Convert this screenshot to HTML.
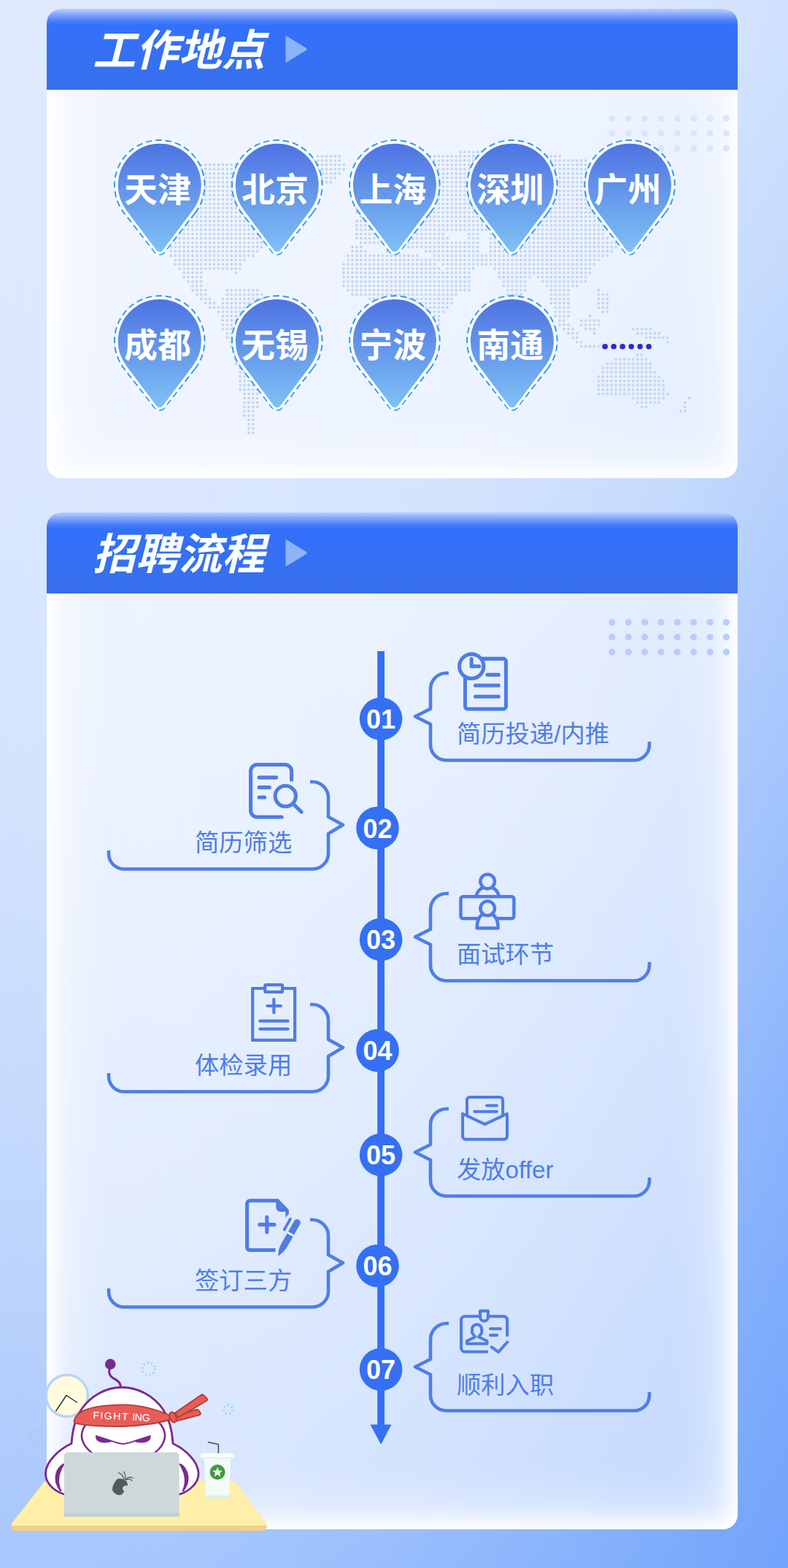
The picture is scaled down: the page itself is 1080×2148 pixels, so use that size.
<!DOCTYPE html>
<html><head><meta charset="utf-8"><title>poster</title>
<style>
html,body{margin:0;padding:0;}
body{width:1080px;height:2148px;position:relative;overflow:hidden;font-family:"Liberation Sans",sans-serif;background:#c8dcfd;}
.bs{position:absolute;top:0;height:2148px;}
.bs i{position:absolute;left:0;top:0;right:0;bottom:0;-webkit-mask-image:linear-gradient(to right,transparent,#000);mask-image:linear-gradient(to right,transparent,#000);}
.card{position:absolute;left:64px;width:947px;border-radius:20px;overflow:hidden;}
.card .bd{position:absolute;left:0;top:0;right:0;bottom:0;border-radius:20px;background:rgba(255,255,255,0.55);box-shadow:inset 0 0 24px 11px #fff,inset 0 0 80px 20px rgba(255,255,255,.75);}
.card .hd{position:absolute;left:0;top:0;right:0;height:111px;background:linear-gradient(to bottom,#bbd0ff 0px,#82a7fd 8px,#477dfb 17px,#3370fb 23px,#3870ec 100%);}
#c1{top:12px;height:643px;}
#c2{top:702px;height:1393px;}
svg{position:absolute;left:0;top:0;}
svg text{font-family:"Liberation Sans","Noto Sans CJK SC",sans-serif;}
</style></head><body>
<div class="bs" style="left:0.0px;width:135.5px;background:linear-gradient(to bottom,#dfeafd 0.0%,#deeafd 4.2%,#dee9fd 8.3%,#dde9fe 12.5%,#dde9fe 16.7%,#dce8fe 20.8%,#dce8fe 25.0%,#dae7fe 29.2%,#d9e7fe 33.3%,#d8e6fe 37.5%,#d7e6fe 41.7%,#d6e5fe 45.8%,#d4e4fe 50.0%,#d1e2fd 54.2%,#cee0fd 58.3%,#cbdefd 62.5%,#c8dcfd 66.7%,#c5dafd 70.8%,#c2d8fd 75.0%,#bed6fd 79.2%,#bad3fd 83.3%,#b5cffc 87.5%,#b1ccfc 91.7%,#accafc 95.8%,#a8c7fd 100.0%)"><i style="background:linear-gradient(to bottom,#dfeafd 0.0%,#deeafd 4.2%,#dee9fd 8.3%,#dde9fe 12.5%,#dde8fe 16.7%,#dce8fe 20.8%,#dbe8fe 25.0%,#dae7fe 29.2%,#d9e7fe 33.3%,#d8e6fe 37.5%,#d7e6fe 41.7%,#d6e5fe 45.8%,#d3e3fe 50.0%,#d0e2fd 54.2%,#cde0fd 58.3%,#cadefd 62.5%,#c8dcfd 66.7%,#c4dafd 70.8%,#c1d8fd 75.0%,#bdd5fd 79.2%,#b9d2fd 83.3%,#b4cffc 87.5%,#b0cbfc 91.7%,#acc9fc 95.8%,#a7c7fd 100.0%)"></i></div>
<div class="bs" style="left:135.0px;width:135.5px;background:linear-gradient(to bottom,#dfeafd 0.0%,#deeafd 4.2%,#dee9fd 8.3%,#dde9fe 12.5%,#dde8fe 16.7%,#dce8fe 20.8%,#dbe8fe 25.0%,#dae7fe 29.2%,#d9e7fe 33.3%,#d8e6fe 37.5%,#d7e6fe 41.7%,#d6e5fe 45.8%,#d3e3fe 50.0%,#d0e2fd 54.2%,#cde0fd 58.3%,#cadefd 62.5%,#c8dcfd 66.7%,#c4dafd 70.8%,#c1d8fd 75.0%,#bdd5fd 79.2%,#b9d2fd 83.3%,#b4cffc 87.5%,#b0cbfc 91.7%,#acc9fc 95.8%,#a7c7fd 100.0%)"><i style="background:linear-gradient(to bottom,#dfeafd 0.0%,#dee9fd 4.2%,#dde9fe 8.3%,#dde9fe 12.5%,#dce8fe 16.7%,#dce8fe 20.8%,#dbe7fe 25.0%,#dae7fe 29.2%,#d9e6fe 33.3%,#d7e6fe 37.5%,#d6e5fe 41.7%,#d4e4fe 45.8%,#d1e2fd 50.0%,#cee1fd 54.2%,#ccdffd 58.3%,#c9ddfd 62.5%,#c6dbfd 66.7%,#c2d9fd 70.8%,#bfd6fd 75.0%,#bad3fd 79.2%,#b6d0fc 83.3%,#b1cdfc 87.5%,#adcafc 91.7%,#a9c8fd 95.8%,#a5c5fd 100.0%)"></i></div>
<div class="bs" style="left:270.0px;width:135.5px;background:linear-gradient(to bottom,#dfeafd 0.0%,#dee9fd 4.2%,#dde9fe 8.3%,#dde9fe 12.5%,#dce8fe 16.7%,#dce8fe 20.8%,#dbe7fe 25.0%,#dae7fe 29.2%,#d9e6fe 33.3%,#d7e6fe 37.5%,#d6e5fe 41.7%,#d4e4fe 45.8%,#d1e2fd 50.0%,#cee1fd 54.2%,#ccdffd 58.3%,#c9ddfd 62.5%,#c6dbfd 66.7%,#c2d9fd 70.8%,#bfd6fd 75.0%,#bad3fd 79.2%,#b6d0fc 83.3%,#b1cdfc 87.5%,#adcafc 91.7%,#a9c8fd 95.8%,#a5c5fd 100.0%)"><i style="background:linear-gradient(to bottom,#dee9fd 0.0%,#dde9fe 4.2%,#dde9fe 8.3%,#dce8fe 12.5%,#dce8fe 16.7%,#dbe7fe 20.8%,#dae7fe 25.0%,#d8e6fe 29.2%,#d7e6fe 33.3%,#d6e5fe 37.5%,#d4e4fe 41.7%,#d1e2fd 45.8%,#cee1fd 50.0%,#cbdffd 54.2%,#c9ddfd 58.3%,#c6dbfd 62.5%,#c2d8fd 66.7%,#bed6fd 70.8%,#bad3fd 75.0%,#b6d0fc 79.2%,#b1cdfc 83.3%,#adcafc 87.5%,#a9c8fd 91.7%,#a4c5fd 95.8%,#9fc2fd 100.0%)"></i></div>
<div class="bs" style="left:405.0px;width:135.5px;background:linear-gradient(to bottom,#dee9fd 0.0%,#dde9fe 4.2%,#dde9fe 8.3%,#dce8fe 12.5%,#dce8fe 16.7%,#dbe7fe 20.8%,#dae7fe 25.0%,#d8e6fe 29.2%,#d7e6fe 33.3%,#d6e5fe 37.5%,#d4e4fe 41.7%,#d1e2fd 45.8%,#cee1fd 50.0%,#cbdffd 54.2%,#c9ddfd 58.3%,#c6dbfd 62.5%,#c2d8fd 66.7%,#bed6fd 70.8%,#bad3fd 75.0%,#b6d0fc 79.2%,#b1cdfc 83.3%,#adcafc 87.5%,#a9c8fd 91.7%,#a4c5fd 95.8%,#9fc2fd 100.0%)"><i style="background:linear-gradient(to bottom,#dde9fe 0.0%,#dde8fe 4.2%,#dce8fe 8.3%,#dbe8fe 12.5%,#dae7fe 16.7%,#d9e7fe 20.8%,#d8e6fe 25.0%,#d7e5fe 29.2%,#d5e5fe 33.3%,#d3e3fe 37.5%,#d0e1fd 41.7%,#cde0fd 45.8%,#cadefd 50.0%,#c7dcfd 54.2%,#c4dafd 58.3%,#c0d7fd 62.5%,#bcd5fd 66.7%,#b8d2fd 70.8%,#b3cefc 75.0%,#afcbfc 79.2%,#abc9fc 83.3%,#a7c7fd 87.5%,#a2c4fd 91.7%,#9dc0fd 95.8%,#98bdfd 100.0%)"></i></div>
<div class="bs" style="left:540.0px;width:135.5px;background:linear-gradient(to bottom,#dde9fe 0.0%,#dde8fe 4.2%,#dce8fe 8.3%,#dbe8fe 12.5%,#dae7fe 16.7%,#d9e7fe 20.8%,#d8e6fe 25.0%,#d7e5fe 29.2%,#d5e5fe 33.3%,#d3e3fe 37.5%,#d0e1fd 41.7%,#cde0fd 45.8%,#cadefd 50.0%,#c7dcfd 54.2%,#c4dafd 58.3%,#c0d7fd 62.5%,#bcd5fd 66.7%,#b8d2fd 70.8%,#b3cefc 75.0%,#afcbfc 79.2%,#abc9fc 83.3%,#a7c7fd 87.5%,#a2c4fd 91.7%,#9dc0fd 95.8%,#98bdfd 100.0%)"><i style="background:linear-gradient(to bottom,#dce8fe 0.0%,#dbe8fe 4.2%,#dae7fe 8.3%,#d9e7fe 12.5%,#d8e6fe 16.7%,#d7e6fe 20.8%,#d6e5fe 25.0%,#d3e3fe 29.2%,#d0e2fd 33.3%,#cde0fd 37.5%,#cadefd 41.7%,#c8dcfd 45.8%,#c4dafd 50.0%,#c1d8fd 54.2%,#bdd5fd 58.3%,#b8d2fd 62.5%,#b4cffc 66.7%,#afcbfc 70.8%,#abc9fc 75.0%,#a7c7fd 79.2%,#a3c4fd 83.3%,#9ec1fd 87.5%,#99bdfd 91.7%,#94bafc 95.8%,#8fb7fc 100.0%)"></i></div>
<div class="bs" style="left:675.0px;width:135.5px;background:linear-gradient(to bottom,#dce8fe 0.0%,#dbe8fe 4.2%,#dae7fe 8.3%,#d9e7fe 12.5%,#d8e6fe 16.7%,#d7e6fe 20.8%,#d6e5fe 25.0%,#d3e3fe 29.2%,#d0e2fd 33.3%,#cde0fd 37.5%,#cadefd 41.7%,#c8dcfd 45.8%,#c4dafd 50.0%,#c1d8fd 54.2%,#bdd5fd 58.3%,#b8d2fd 62.5%,#b4cffc 66.7%,#afcbfc 70.8%,#abc9fc 75.0%,#a7c7fd 79.2%,#a3c4fd 83.3%,#9ec1fd 87.5%,#99bdfd 91.7%,#94bafc 95.8%,#8fb7fc 100.0%)"><i style="background:linear-gradient(to bottom,#dae7fe 0.0%,#d9e6fe 4.2%,#d8e6fe 8.3%,#d7e5fe 12.5%,#d5e4fe 16.7%,#d2e3fd 20.8%,#cfe1fd 25.0%,#ccdffd 29.2%,#caddfd 33.3%,#c7dbfd 37.5%,#c3d9fd 41.7%,#c0d7fd 45.8%,#bcd4fd 50.0%,#b7d1fd 54.2%,#b3cefc 58.3%,#aecbfc 62.5%,#aac8fd 66.7%,#a6c6fd 70.8%,#a1c3fd 75.0%,#9cc0fd 79.2%,#97bcfc 83.3%,#92b9fc 87.5%,#8db6fc 91.7%,#89b3fc 95.8%,#85b1fc 100.0%)"></i></div>
<div class="bs" style="left:810.0px;width:135.5px;background:linear-gradient(to bottom,#dae7fe 0.0%,#d9e6fe 4.2%,#d8e6fe 8.3%,#d7e5fe 12.5%,#d5e4fe 16.7%,#d2e3fd 20.8%,#cfe1fd 25.0%,#ccdffd 29.2%,#caddfd 33.3%,#c7dbfd 37.5%,#c3d9fd 41.7%,#c0d7fd 45.8%,#bcd4fd 50.0%,#b7d1fd 54.2%,#b3cefc 58.3%,#aecbfc 62.5%,#aac8fd 66.7%,#a6c6fd 70.8%,#a1c3fd 75.0%,#9cc0fd 79.2%,#97bcfc 83.3%,#92b9fc 87.5%,#8db6fc 91.7%,#89b3fc 95.8%,#85b1fc 100.0%)"><i style="background:linear-gradient(to bottom,#d7e5fe 0.0%,#d6e5fe 4.2%,#d3e3fe 8.3%,#d0e2fd 12.5%,#cde0fd 16.7%,#cadefd 20.8%,#c7dcfd 25.0%,#c4dafd 29.2%,#c1d8fd 33.3%,#bdd5fd 37.5%,#b8d2fd 41.7%,#b4cffc 45.8%,#afcbfc 50.0%,#abc9fc 54.2%,#a7c7fd 58.3%,#a3c4fd 62.5%,#9ec1fd 66.7%,#99bdfd 70.8%,#94bafc 75.0%,#8fb7fc 79.2%,#8ab4fc 83.3%,#86b1fc 87.5%,#82affc 91.7%,#7facfb 95.8%,#7baafb 100.0%)"></i></div>
<div class="bs" style="left:945.0px;width:135.5px;background:linear-gradient(to bottom,#d7e5fe 0.0%,#d6e5fe 4.2%,#d3e3fe 8.3%,#d0e2fd 12.5%,#cde0fd 16.7%,#cadefd 20.8%,#c7dcfd 25.0%,#c4dafd 29.2%,#c1d8fd 33.3%,#bdd5fd 37.5%,#b8d2fd 41.7%,#b4cffc 45.8%,#afcbfc 50.0%,#abc9fc 54.2%,#a7c7fd 58.3%,#a3c4fd 62.5%,#9ec1fd 66.7%,#99bdfd 70.8%,#94bafc 75.0%,#8fb7fc 79.2%,#8ab4fc 83.3%,#86b1fc 87.5%,#82affc 91.7%,#7facfb 95.8%,#7baafb 100.0%)"><i style="background:linear-gradient(to bottom,#d0e1fd 0.0%,#cde0fd 4.2%,#cadefd 8.3%,#c7dcfd 12.5%,#c4dafd 16.7%,#c0d7fd 20.8%,#bcd5fd 25.0%,#b8d1fd 29.2%,#b3cefc 33.3%,#afcbfc 37.5%,#abc9fc 41.7%,#a7c6fd 45.8%,#a2c3fd 50.0%,#9dc0fd 54.2%,#98bdfc 58.3%,#93bafc 62.5%,#8eb6fc 66.7%,#89b3fc 70.8%,#86b1fc 75.0%,#82aefc 79.2%,#7eacfb 83.3%,#7ba9fb 87.5%,#77a7fb 91.7%,#74a5fb 95.8%,#72a3fb 100.0%)"></i></div>
<div class="card" id="c1"><div class="bd"></div><div class="hd"></div></div>
<div class="card" id="c2"><div class="bd"></div><div class="hd"></div></div>
<svg width="1080" height="2148" viewBox="0 0 1080 2148">
<defs>
<linearGradient id="pg" x1="0" y1="0" x2="0" y2="1"><stop offset="0" stop-color="#4d72e2"/><stop offset="1" stop-color="#7fc2f4"/></linearGradient>
</defs>
<path fill="none" stroke="#c5d7ee" stroke-width="3.9" stroke-linecap="round" stroke-dasharray="0 5.92" d="M631.0 208.1h77.1M435.6 214.0h29.7M542.2 214.0h225.1M252.1 219.9h0.1M429.7 219.9h35.6M518.5 219.9h284.3M240.3 225.8h88.9M435.6 225.8h35.6M518.5 225.8h319.8M228.4 231.8h124.4M435.6 231.8h35.6M518.5 231.8h355.3M216.6 237.7h142.2M435.6 237.7h29.7M512.6 237.7h379.0M216.6 243.6h148.1M441.5 243.6h17.9M512.6 243.6h384.9M216.6 249.5h154.0M441.5 249.5h11.9M506.7 249.5h396.7M216.6 255.4h154.0M506.7 255.4h390.8M216.6 261.4h112.6M358.7 261.4h17.9M500.7 261.4h390.8M216.6 267.3h112.6M358.7 267.3h23.8M500.7 267.3h384.9M216.6 273.2h112.6M364.6 273.2h23.8M494.8 273.2h390.8M216.6 279.1h112.6M364.6 279.1h23.8M488.9 279.1h361.2M867.8 279.1h11.9M216.6 285.0h112.6M364.6 285.0h23.8M488.9 285.0h355.3M867.8 285.0h11.9M216.6 291.0h118.5M358.7 291.0h35.6M488.9 291.0h349.4M873.7 291.0h0.1M222.5 296.9h118.5M358.7 296.9h35.6M494.8 296.9h343.5M222.5 302.8h165.9M488.9 302.8h349.4M222.5 308.7h159.9M488.9 308.7h343.5M222.5 314.6h154.0M488.9 314.6h343.5M222.5 320.6h154.0M488.9 320.6h118.5M642.8 320.6h11.9M672.4 320.6h154.0M855.9 320.6h6.0M222.5 326.5h148.1M488.9 326.5h124.4M642.8 326.5h11.9M672.4 326.5h159.9M855.9 326.5h6.0M228.4 332.4h136.3M494.8 332.4h159.9M672.4 332.4h171.8M861.9 332.4h0.1M228.4 338.3h130.3M483.0 338.3h11.9M559.9 338.3h94.8M672.4 338.3h171.8M861.9 338.3h0.1M234.3 344.2h118.5M483.0 344.2h17.9M530.3 344.2h11.9M583.6 344.2h71.1M672.4 344.2h165.9M861.9 344.2h0.1M234.3 350.2h112.6M477.1 350.2h94.8M595.5 350.2h236.9M240.3 356.1h94.8M477.1 356.1h343.5M240.3 362.0h88.9M471.1 362.0h124.4M607.3 362.0h207.3M246.2 367.9h83.0M471.1 367.9h130.3M613.2 367.9h35.6M678.3 367.9h130.3M252.1 373.8h23.8M323.1 373.8h0.1M471.1 373.8h171.8M684.3 373.8h124.4M252.1 379.8h23.8M471.1 379.8h171.8M684.3 379.8h41.5M737.5 379.8h65.2M258.0 385.7h17.9M471.1 385.7h171.8M690.2 385.7h29.7M743.5 385.7h59.3M263.9 391.6h11.9M471.1 391.6h171.8M690.2 391.6h29.7M749.4 391.6h41.5M263.9 397.5h17.9M311.3 397.5h41.5M477.1 397.5h165.9M696.1 397.5h23.8M755.3 397.5h23.8M820.4 397.5h0.1M269.9 403.4h11.9M311.3 403.4h47.5M483.0 403.4h142.2M696.1 403.4h17.9M755.3 403.4h23.8M820.4 403.4h11.9M275.8 409.4h11.9M305.4 409.4h65.2M506.7 409.4h112.6M702.0 409.4h11.9M755.3 409.4h23.8M820.4 409.4h11.9M281.7 415.3h11.9M305.4 415.3h71.1M524.4 415.3h94.8M702.0 415.3h11.9M755.3 415.3h23.8M820.4 415.3h11.9M287.6 421.2h94.8M530.3 421.2h83.0M702.0 421.2h6.0M761.2 421.2h17.9M820.4 421.2h11.9M299.5 427.1h88.9M530.3 427.1h77.1M761.2 427.1h17.9M826.3 427.1h6.0M305.4 433.0h83.0M536.3 433.0h65.2M761.2 433.0h17.9M808.6 433.0h0.1M305.4 439.0h77.1M536.3 439.0h65.2M767.1 439.0h6.0M796.7 439.0h23.8M305.4 444.9h77.1M536.3 444.9h65.2M767.1 444.9h11.9M796.7 444.9h23.8M305.4 450.8h77.1M536.3 450.8h65.2M773.1 450.8h11.9M802.7 450.8h11.9M867.8 450.8h23.8M311.3 456.7h71.1M542.2 456.7h53.4M779.0 456.7h11.9M814.5 456.7h0.1M873.7 456.7h29.7M311.3 462.6h71.1M542.2 462.6h53.4M784.9 462.6h6.0M885.5 462.6h29.7M317.2 468.6h59.3M542.2 468.6h53.4M790.8 468.6h6.0M915.1 468.6h0.1M317.2 474.5h59.3M542.2 474.5h53.4M796.7 474.5h35.6M323.1 480.4h47.5M542.2 480.4h47.5M323.1 486.3h47.5M542.2 486.3h47.5M873.7 486.3h6.0M323.1 492.2h47.5M548.1 492.2h35.6M844.1 492.2h41.5M323.1 498.2h41.5M548.1 498.2h35.6M832.3 498.2h59.3M329.1 504.1h35.6M548.1 504.1h35.6M826.3 504.1h65.2M329.1 510.0h35.6M548.1 510.0h29.7M826.3 510.0h71.1M329.1 515.9h29.7M548.1 515.9h23.8M820.4 515.9h83.0M329.1 521.8h29.7M548.1 521.8h17.9M820.4 521.8h88.9M329.1 527.8h29.7M820.4 527.8h88.9M329.1 533.7h23.8M820.4 533.7h88.9M335.0 539.6h17.9M820.4 539.6h94.8M335.0 545.5h17.9M867.8 545.5h41.5M944.7 545.5h0.1M335.0 551.4h17.9M873.7 551.4h29.7M938.8 551.4h0.1M335.0 557.4h17.9M879.6 557.4h6.0M938.8 557.4h0.1M335.0 563.3h11.9M932.9 563.3h6.0M335.0 569.2h11.9M340.9 575.1h6.0M340.9 581.0h6.0M340.9 587.0h6.0M340.9 592.9h6.0"/>
<g fill="#dae6fd"><circle cx="838.9" cy="162.2" r="4.6"/><circle cx="861.3" cy="162.2" r="4.6"/><circle cx="883.6" cy="162.2" r="4.6"/><circle cx="906.0" cy="162.2" r="4.6"/><circle cx="928.3" cy="162.2" r="4.6"/><circle cx="950.7" cy="162.2" r="4.6"/><circle cx="973.1" cy="162.2" r="4.6"/><circle cx="995.4" cy="162.2" r="4.6"/><circle cx="838.9" cy="182.7" r="4.6"/><circle cx="861.3" cy="182.7" r="4.6"/><circle cx="883.6" cy="182.7" r="4.6"/><circle cx="906.0" cy="182.7" r="4.6"/><circle cx="928.3" cy="182.7" r="4.6"/><circle cx="950.7" cy="182.7" r="4.6"/><circle cx="973.1" cy="182.7" r="4.6"/><circle cx="995.4" cy="182.7" r="4.6"/><circle cx="838.9" cy="203.2" r="4.6"/><circle cx="861.3" cy="203.2" r="4.6"/><circle cx="883.6" cy="203.2" r="4.6"/><circle cx="906.0" cy="203.2" r="4.6"/><circle cx="928.3" cy="203.2" r="4.6"/><circle cx="950.7" cy="203.2" r="4.6"/><circle cx="973.1" cy="203.2" r="4.6"/><circle cx="995.4" cy="203.2" r="4.6"/></g>
<g fill="#b7cdfb"><circle cx="838.9" cy="852.5" r="4.6"/><circle cx="861.3" cy="852.5" r="4.6"/><circle cx="883.6" cy="852.5" r="4.6"/><circle cx="906.0" cy="852.5" r="4.6"/><circle cx="928.3" cy="852.5" r="4.6"/><circle cx="950.7" cy="852.5" r="4.6"/><circle cx="973.1" cy="852.5" r="4.6"/><circle cx="995.4" cy="852.5" r="4.6"/><circle cx="838.9" cy="872.8" r="4.6"/><circle cx="861.3" cy="872.8" r="4.6"/><circle cx="883.6" cy="872.8" r="4.6"/><circle cx="906.0" cy="872.8" r="4.6"/><circle cx="928.3" cy="872.8" r="4.6"/><circle cx="950.7" cy="872.8" r="4.6"/><circle cx="973.1" cy="872.8" r="4.6"/><circle cx="995.4" cy="872.8" r="4.6"/><circle cx="838.9" cy="893.1" r="4.6"/><circle cx="861.3" cy="893.1" r="4.6"/><circle cx="883.6" cy="893.1" r="4.6"/><circle cx="906.0" cy="893.1" r="4.6"/><circle cx="928.3" cy="893.1" r="4.6"/><circle cx="950.7" cy="893.1" r="4.6"/><circle cx="973.1" cy="893.1" r="4.6"/><circle cx="995.4" cy="893.1" r="4.6"/></g>
<text x="127" y="90" font-size="59" font-weight="bold" font-style="italic" fill="#fbfdff">工作地点</text>
<text x="127" y="780" font-size="59" font-weight="bold" font-style="italic" fill="#fbfdff">招聘流程</text>
<path fill="#8bb4f9" d="M392.5 49.3L420 66Q421.6 67.4 420 68.8L392.5 85.6Q391.5 86 391.5 84.5V50.3Q391.5 48.8 392.5 49.3Z"/>
<path fill="#8bb4f9" transform="translate(0,690)" d="M392.5 49.3L420 66Q421.6 67.4 420 68.8L392.5 85.6Q391.5 86 391.5 84.5V50.3Q391.5 48.8 392.5 49.3Z"/>
<g transform="translate(218.75,253.75)"><path d="M48.64 38.12A61.8 61.8 0 1 0 -48.64 38.12L-6.69 91.64A8.5 8.5 0 0 0 6.69 91.64Z" fill="none" stroke="#2c9aea" stroke-width="1.9" stroke-dasharray="8.5 5"/><path d="M46.76 35.15A58.5 58.5 0 1 0 -46.76 35.15L-5.60 89.91A7 7 0 0 0 5.60 89.91Z" fill="url(#pg)" stroke="#fff" stroke-width="3"/></g><text x="216.1" y="276.1" font-size="46" font-weight="bold" fill="#fff" text-anchor="middle">天津</text>
<g transform="translate(379.8,253.75)"><path d="M48.64 38.12A61.8 61.8 0 1 0 -48.64 38.12L-6.69 91.64A8.5 8.5 0 0 0 6.69 91.64Z" fill="none" stroke="#2c9aea" stroke-width="1.9" stroke-dasharray="8.5 5"/><path d="M46.76 35.15A58.5 58.5 0 1 0 -46.76 35.15L-5.60 89.91A7 7 0 0 0 5.60 89.91Z" fill="url(#pg)" stroke="#fff" stroke-width="3"/></g><text x="377.1" y="276.1" font-size="46" font-weight="bold" fill="#fff" text-anchor="middle">北京</text>
<g transform="translate(540.9,253.75)"><path d="M48.64 38.12A61.8 61.8 0 1 0 -48.64 38.12L-6.69 91.64A8.5 8.5 0 0 0 6.69 91.64Z" fill="none" stroke="#2c9aea" stroke-width="1.9" stroke-dasharray="8.5 5"/><path d="M46.76 35.15A58.5 58.5 0 1 0 -46.76 35.15L-5.60 89.91A7 7 0 0 0 5.60 89.91Z" fill="url(#pg)" stroke="#fff" stroke-width="3"/></g><text x="538.2" y="276.1" font-size="46" font-weight="bold" fill="#fff" text-anchor="middle">上海</text>
<g transform="translate(701.9,253.75)"><path d="M48.64 38.12A61.8 61.8 0 1 0 -48.64 38.12L-6.69 91.64A8.5 8.5 0 0 0 6.69 91.64Z" fill="none" stroke="#2c9aea" stroke-width="1.9" stroke-dasharray="8.5 5"/><path d="M46.76 35.15A58.5 58.5 0 1 0 -46.76 35.15L-5.60 89.91A7 7 0 0 0 5.60 89.91Z" fill="url(#pg)" stroke="#fff" stroke-width="3"/></g><text x="699.2" y="276.1" font-size="46" font-weight="bold" fill="#fff" text-anchor="middle">深圳</text>
<g transform="translate(863.0,253.75)"><path d="M48.64 38.12A61.8 61.8 0 1 0 -48.64 38.12L-6.69 91.64A8.5 8.5 0 0 0 6.69 91.64Z" fill="none" stroke="#2c9aea" stroke-width="1.9" stroke-dasharray="8.5 5"/><path d="M46.76 35.15A58.5 58.5 0 1 0 -46.76 35.15L-5.60 89.91A7 7 0 0 0 5.60 89.91Z" fill="url(#pg)" stroke="#fff" stroke-width="3"/></g><text x="860.3" y="276.1" font-size="46" font-weight="bold" fill="#fff" text-anchor="middle">广州</text>
<g transform="translate(218.75,467)"><path d="M48.64 38.12A61.8 61.8 0 1 0 -48.64 38.12L-6.69 91.64A8.5 8.5 0 0 0 6.69 91.64Z" fill="none" stroke="#2c9aea" stroke-width="1.9" stroke-dasharray="8.5 5"/><path d="M46.76 35.15A58.5 58.5 0 1 0 -46.76 35.15L-5.60 89.91A7 7 0 0 0 5.60 89.91Z" fill="url(#pg)" stroke="#fff" stroke-width="3"/></g><text x="216.1" y="489.3" font-size="46" font-weight="bold" fill="#fff" text-anchor="middle">成都</text>
<g transform="translate(379.8,467)"><path d="M48.64 38.12A61.8 61.8 0 1 0 -48.64 38.12L-6.69 91.64A8.5 8.5 0 0 0 6.69 91.64Z" fill="none" stroke="#2c9aea" stroke-width="1.9" stroke-dasharray="8.5 5"/><path d="M46.76 35.15A58.5 58.5 0 1 0 -46.76 35.15L-5.60 89.91A7 7 0 0 0 5.60 89.91Z" fill="url(#pg)" stroke="#fff" stroke-width="3"/></g><text x="377.1" y="489.3" font-size="46" font-weight="bold" fill="#fff" text-anchor="middle">无锡</text>
<g transform="translate(540.9,467)"><path d="M48.64 38.12A61.8 61.8 0 1 0 -48.64 38.12L-6.69 91.64A8.5 8.5 0 0 0 6.69 91.64Z" fill="none" stroke="#2c9aea" stroke-width="1.9" stroke-dasharray="8.5 5"/><path d="M46.76 35.15A58.5 58.5 0 1 0 -46.76 35.15L-5.60 89.91A7 7 0 0 0 5.60 89.91Z" fill="url(#pg)" stroke="#fff" stroke-width="3"/></g><text x="538.2" y="489.3" font-size="46" font-weight="bold" fill="#fff" text-anchor="middle">宁波</text>
<g transform="translate(701.9,467)"><path d="M48.64 38.12A61.8 61.8 0 1 0 -48.64 38.12L-6.69 91.64A8.5 8.5 0 0 0 6.69 91.64Z" fill="none" stroke="#2c9aea" stroke-width="1.9" stroke-dasharray="8.5 5"/><path d="M46.76 35.15A58.5 58.5 0 1 0 -46.76 35.15L-5.60 89.91A7 7 0 0 0 5.60 89.91Z" fill="url(#pg)" stroke="#fff" stroke-width="3"/></g><text x="699.2" y="489.3" font-size="46" font-weight="bold" fill="#fff" text-anchor="middle">南通</text>
<g fill="#2f2bcb"><circle cx="829.2" cy="474.7" r="3.8"/><circle cx="841.2" cy="474.7" r="3.8"/><circle cx="853.2" cy="474.7" r="3.8"/><circle cx="865.2" cy="474.7" r="3.8"/><circle cx="877.2" cy="474.7" r="3.8"/><circle cx="889.2" cy="474.7" r="3.8"/></g>
<rect x="517.2" y="892" width="9.8" height="1066" fill="#3570f4"/><path fill="#3570f4" d="M507.5 1951.5H536.5L522.8 1977.5Q522.1 1978.6 521.4 1977.5Z"/>
<circle cx="522.1" cy="984.7" r="29.3" fill="#3570f4"/><text x="522.1" y="998" font-size="36" font-weight="bold" fill="#fff" text-anchor="middle">01</text>
<circle cx="517.5" cy="1134.2" r="29.3" fill="#3570f4"/><text x="517.5" y="1147.5" font-size="36" font-weight="bold" fill="#fff" text-anchor="middle">02</text>
<circle cx="522.1" cy="1287" r="29.3" fill="#3570f4"/><text x="522.1" y="1300.3" font-size="36" font-weight="bold" fill="#fff" text-anchor="middle">03</text>
<circle cx="517.5" cy="1439" r="29.3" fill="#3570f4"/><text x="517.5" y="1452.3" font-size="36" font-weight="bold" fill="#fff" text-anchor="middle">04</text>
<circle cx="522.1" cy="1582" r="29.3" fill="#3570f4"/><text x="522.1" y="1595.3" font-size="36" font-weight="bold" fill="#fff" text-anchor="middle">05</text>
<circle cx="517.5" cy="1734" r="29.3" fill="#3570f4"/><text x="517.5" y="1747.3" font-size="36" font-weight="bold" fill="#fff" text-anchor="middle">06</text>
<circle cx="522.1" cy="1876" r="29.3" fill="#3570f4"/><text x="522.1" y="1889.3" font-size="36" font-weight="bold" fill="#fff" text-anchor="middle">07</text>
<g fill="none" stroke="#4f7ee6" stroke-width="4.6" stroke-linecap="butt" stroke-linejoin="round"><path transform="translate(0,985)" d="M615 -63H612A22 22 0 0 0 590 -41V-14L569 -3.5L590 7V35A21.5 21.5 0 0 0 611.5 56.5H869A21 21 0 0 0 890 35.5V31"/><path transform="translate(0,1134)" d="M425 -63H428A22 22 0 0 1 450 -41V-15L470 -4L450 8V35A21.5 21.5 0 0 1 428.5 56.5H170A21 21 0 0 1 149 35.5V31"/><path transform="translate(0,1287)" d="M615 -63H612A22 22 0 0 0 590 -41V-14L569 -3.5L590 7V35A21.5 21.5 0 0 0 611.5 56.5H869A21 21 0 0 0 890 35.5V31"/><path transform="translate(0,1439)" d="M425 -63H428A22 22 0 0 1 450 -41V-15L470 -4L450 8V35A21.5 21.5 0 0 1 428.5 56.5H170A21 21 0 0 1 149 35.5V31"/><path transform="translate(0,1582)" d="M615 -63H612A22 22 0 0 0 590 -41V-14L569 -3.5L590 7V35A21.5 21.5 0 0 0 611.5 56.5H869A21 21 0 0 0 890 35.5V31"/><path transform="translate(0,1734)" d="M425 -63H428A22 22 0 0 1 450 -41V-15L470 -4L450 8V35A21.5 21.5 0 0 1 428.5 56.5H170A21 21 0 0 1 149 35.5V31"/><path transform="translate(0,1876)" d="M615 -63H612A22 22 0 0 0 590 -41V-14L569 -3.5L590 7V35A21.5 21.5 0 0 0 611.5 56.5H869A21 21 0 0 0 890 35.5V31"/></g>
<text x="626" y="1017" font-size="33.3" fill="#4f7ee6">简历投递/内推</text>
<text x="267" y="1166" font-size="33.3" fill="#4f7ee6">简历筛选</text>
<text x="626" y="1319" font-size="33.3" fill="#4f7ee6">面试环节</text>
<text x="267" y="1471" font-size="33.3" fill="#4f7ee6">体检录用</text>
<text x="626" y="1614" font-size="33.3" fill="#4f7ee6">发放offer</text>
<text x="267" y="1766" font-size="33.3" fill="#4f7ee6">签订三方</text>
<text x="626" y="1908.5" font-size="33.3" fill="#4f7ee6">顺利入职</text>
<g fill="none" stroke="#4f7de4" stroke-linecap="round" stroke-linejoin="round">
<!-- icon1 resume+clock -->
<g stroke-width="5.1">
<path d="M660.5 902.4H689.5A4 4 0 0 1 693.5 906.4V967.3A4 4 0 0 1 689.5 971.3H641.5A4 4 0 0 1 637.5 967.3V927.5"/>
<circle cx="646.25" cy="912.8" r="16.65"/>
<path d="M646.2 902.8V912.8H656.8"/>
<path d="M668 924.4H683.3M651.6 939H683.3M651.6 954.3H683.3"/>
</g>
<!-- icon2 doc+magnifier -->
<g stroke-width="5.1">
<path d="M399.6 1068.2V1056.5A9 9 0 0 0 390.6 1047.5H352.6A9 9 0 0 0 343.6 1056.5V1110.3A9 9 0 0 0 352.6 1119.3H386.1"/>
<path d="M355.2 1065.1H378.6M355.2 1078.6H369.4M355.2 1092.3H362.7"/>
<circle cx="391.3" cy="1090.6" r="14.15"/>
<path d="M401.8 1101.2L413.2 1112.3"/>
</g>
<!-- icon3 interview -->
<g stroke-width="4.5">
<path d="M654.5 1258.3H634.5A3 3 0 0 1 631.5 1255.3V1231.3A3 3 0 0 1 634.5 1228.3H701.4A3 3 0 0 1 704.4 1231.3V1255.3A3 3 0 0 1 701.4 1258.3H682"/>
<circle cx="668.2" cy="1207.6" r="9.8"/>
<path d="M662.3 1215.6C657 1218 653.3 1222.5 652.6 1228.3M674.1 1215.6C679.4 1218 683.1 1222.5 683.8 1228.3"/>
<circle cx="668.2" cy="1244.4" r="9.8"/>
<path d="M662.3 1252.4C656.5 1255 653.7 1262 653.7 1271.6H682.7C682.7 1262 679.9 1255 674.1 1252.4"/>
</g>
<!-- icon4 clipboard -->
<g stroke-width="4.2">
<path stroke-linejoin="miter" d="M363.2 1354H346.2V1424.8H404.1V1354H387.1"/>
<rect x="363.2" y="1349.1" width="23.9" height="9.8" rx="1.5"/>
<path d="M375.4 1368.8V1387.3M366.5 1378H384.9M356.3 1398.7H394.6M356.3 1409.6H394.6"/>
</g>
<!-- icon5 envelope -->
<g stroke-width="4">
<path d="M634.1 1525.7V1556.8A4 4 0 0 0 638.1 1560.8H691A4 4 0 0 0 695 1556.8V1525.7L664.5 1540.1Z"/>
<path d="M640 1527.5V1507A4 4 0 0 1 644 1503H685.1A4 4 0 0 1 689.1 1507V1527.5"/>
<path d="M667.1 1514.6H681M650.2 1522.7H681"/>
</g>
<!-- icon6 sign -->
<g stroke-width="5.1">
<path stroke-linecap="butt" d="M381.5 1644.8H342.6A4 4 0 0 0 338.6 1648.8V1708.5A4 4 0 0 0 342.6 1712.5H377.5"/>
<path d="M365.8 1667.4V1687.9M355.8 1677.6H376"/>
</g>
<path stroke-width="3.8" d="M397.9 1669.9L389.7 1684.5"/>
<!-- icon7 badge -->
<g stroke-width="4.1">
<path stroke-linecap="butt" d="M658.1 1803.3H637.1A5 5 0 0 0 632.1 1808.3V1846.8A5 5 0 0 0 637.1 1851.8H669M669 1803.3H690.2A5 5 0 0 1 695.2 1808.3V1830.9"/>
<path d="M658.1 1795.9H669V1804.3A5.45 5.45 0 0 1 658.1 1804.3Z"/>
<path d="M647.1 1826V1820.9A6.55 6.55 0 0 1 660.2 1820.9V1826L656 1831.5L667.5 1837V1840.8H640V1837L651.3 1831.5Z"/>
<path d="M672.1 1820.3H686.1M672.1 1829.1H681.2"/>
<path d="M673.8 1845.3L683.1 1852.2L695.4 1838.5"/>
</g>
</g>
<g fill="#4f7de4">
<!-- icon6 fold + pen -->
<path d="M378.3 1647.3L381.3 1642.3L395.9 1657.3V1662.8L391.3 1668.2V1660H384.3A6 6 0 0 1 378.3 1654Z"/>
<g transform="translate(381.1,1720.8) rotate(29.6)">
<path d="M0 0L-1.6 -3.5C-3.6 -8 -4.6 -12 -4.6 -16.5V-33.2H4.6V-19C4.6 -12 3 -6 0 0Z"/>
<path d="M-4.6 -36.2H4.6V-52.9A4.6 4.6 0 0 0 -4.6 -52.9Z"/>
</g>
</g>
<g>
<circle cx="91.8" cy="1912.1" r="28.6" fill="#fffbdc" stroke="#b6d4f5" stroke-width="3.4"/>
<path d="M76.6 1933L91 1911.5L105.3 1921" fill="none" stroke="#1f2a4a" stroke-width="1.4" stroke-linecap="round" stroke-linejoin="round"/>
<path d="M15.5 2092Q14 2089.5 16.5 2086.5L60 2031Q61 2029.8 63 2029.8L320 2028.5Q322 2028.5 323 2030L364.5 2086.5Q366.5 2089.5 365 2093Q364 2097 360 2097H20Q16.5 2097 15.5 2092Z" fill="#f2cf88"/>
<path d="M16.5 2086.5L60 2031Q61 2029.8 63 2029.8L320 2028.5Q322 2028.5 323 2030L364.5 2086.5Q366.5 2090 362.5 2090H18.5Q14.5 2090 16.5 2086.5Z" fill="#ffefa8"/>
<path d="M150.2 1874C148 1884 153 1887 158 1889.5C163 1892 165.5 1895 165.5 1901" fill="none" stroke="#7a2b90" stroke-width="3.1" stroke-linecap="round"/>
<circle cx="151.2" cy="1868.8" r="7.3" fill="#7a2b90"/>
<path d="M167 1900.5C145 1900.5 125 1912 112 1930C104 1942 99 1960 98 1977.5C84 1984 63 2000 62.5 2018C62 2030 72 2042 88 2047L246 2047C262 2042 272.5 2030 272 2018C271.5 2000 251 1984 237 1977.5C236 1960 231 1942 223 1930C210 1912 189 1900.5 167 1900.5Z" fill="#fff" stroke="#7a2b90" stroke-width="2.8" stroke-linejoin="round"/>
<path d="M87 2006C75.5 2013 73 2029 83 2042C78 2031 79.5 2018 87 2006ZM247 2006C258.5 2013 261 2029 251 2042C256 2031 254.5 2018 247 2006Z" fill="#7a2b90" stroke="#7a2b90" stroke-width="2.4" stroke-linejoin="round"/>
<path d="M127 1991C116 1983 110 1972 112.5 1962C114 1955 118 1950 124 1945L214 1945C220 1950 224 1955 225.5 1962C228 1972 222 1983 211 1991" fill="none" stroke="#7a2b90" stroke-width="2.6" stroke-linecap="round"/>
<path d="M131.3 1966.6L154.5 1974.3C148 1977.5 137 1977.2 133.3 1973.5C131 1971.3 130.8 1968.5 131.3 1966.6ZM206.3 1966.6L183.1 1974.3C189.6 1977.5 200.6 1977.2 204.3 1973.5C206.6 1971.3 206.8 1968.5 206.3 1966.6Z" fill="#7a2b90"/>
<path d="M131.8 1967L153.5 1974.2Q162 1977.6 168.8 1978Q175.6 1977.6 184.1 1974.2L205.8 1967" fill="none" stroke="#7a2b90" stroke-width="1.8" stroke-linecap="round" stroke-linejoin="round"/>
<g fill="#e85c58" stroke="#b53c3b" stroke-width="1.9" stroke-linejoin="round">
<path d="M240 1939.6L269.5 1931Q271.5 1930.6 272.5 1932.2L274.6 1935.4Q275.4 1937.4 273.4 1938.3L241.3 1946.9Z"/>
<path d="M240 1935.5L275.8 1910.8Q277.6 1909.8 279 1911.2L283.6 1916Q284.8 1917.8 283 1919L244 1942Z"/>
<path d="M101.5 1946.7C103 1940 108 1935.5 113.5 1932.8C125 1927.5 147 1924.6 169 1924.4C190 1924.3 212 1930 232 1938.5L233 1944.5C222 1948.5 196 1953.5 169 1954C147 1954.2 120 1953 106 1950.4C103 1949.8 101.2 1948.5 101.5 1946.7Z"/>
<ellipse cx="237" cy="1941.5" rx="4.4" ry="7.4" transform="rotate(-20 237 1941.5)"/>
</g>
<text transform="translate(127.2,1943.3) rotate(2.51) scale(1,0.95)" x="0" y="0" font-size="14.2" fill="#fff" textLength="48.2" lengthAdjust="spacing">FIGHT</text>
<text transform="translate(180.0,1945.8) rotate(2.66) scale(1,0.95)" x="1" y="0" font-size="14.2" fill="#fff" textLength="24.6" lengthAdjust="spacing">ING</text>
<path d="M87.8 1994.6A5 5 0 0 1 92.8 1989.6H240.6A5 5 0 0 1 245.6 1994.6V2077.8H87.8Z" fill="#cdd8da"/>
<rect x="87.8" y="2072.8" width="157.8" height="5" fill="#bfd0da"/>
<path d="M161 2026C164.5 2024.5 170.5 2026.5 172.8 2028.8C174.3 2030.5 175.2 2033 174.9 2035.4C172.5 2034.6 169.3 2035.4 168.3 2037.6C167.5 2039.8 168.5 2042 170.4 2042.6C169.5 2045 167 2048.2 164 2048.3C160.5 2048.3 155.5 2045.2 154.2 2041.8C153 2037.5 157.5 2028.5 161 2026Z" fill="#55595b"/>
<path d="M170 2026.3C168.8 2021.5 166.5 2018.6 162.3 2017.6M171.3 2026C172.5 2022 171.6 2018.6 169.3 2016.2M172 2026.6C175 2023.5 178.6 2022.8 182 2024.6M172.6 2027.4C176 2025.6 179 2026 180.8 2028.6" fill="none" stroke="#55595b" stroke-width="1.2" stroke-linecap="round"/>
<path d="M299.3 1991V1978.7L285.5 1975.6" fill="none" stroke="#5a5f60" stroke-width="1.8" stroke-linecap="round" stroke-linejoin="round"/>
<path d="M280 1997H316.3L314 2050.5Q313.8 2053 311 2053H285Q282.5 2053 282.2 2050.5Z" fill="#f3fbf7"/>
<path d="M282.2 2050.5Q282.5 2053 285 2053H311Q313.8 2053 314 2050.5L314.1 2048.5H282.1Z" fill="#d8efe9"/>
<rect x="274.8" y="1990.7" width="45.6" height="7.4" rx="2" fill="#fcfefd"/>
<rect x="274.8" y="1996.3" width="45.6" height="1.8" rx="0.9" fill="#e3f0ec"/>
<circle cx="298.1" cy="2016.7" r="10.4" fill="#3f9b3a"/>
<path d="M298.1 2009.7L299.9 2014.4L304.9 2014.7L301.0 2017.9L302.3 2022.7L298.1 2020.0L293.9 2022.7L295.2 2017.9L291.3 2014.7L296.3 2014.4Z" fill="#fff"/>
<g fill="none" stroke="#86cfe3" stroke-width="3.2" stroke-dasharray="1.3 4.2"><circle cx="203.7" cy="1875.3" r="8.6"/><circle cx="48.5" cy="1966.5" r="8"/><circle cx="312.3" cy="1931" r="6"/></g>
</g>
</svg>
</body></html>
